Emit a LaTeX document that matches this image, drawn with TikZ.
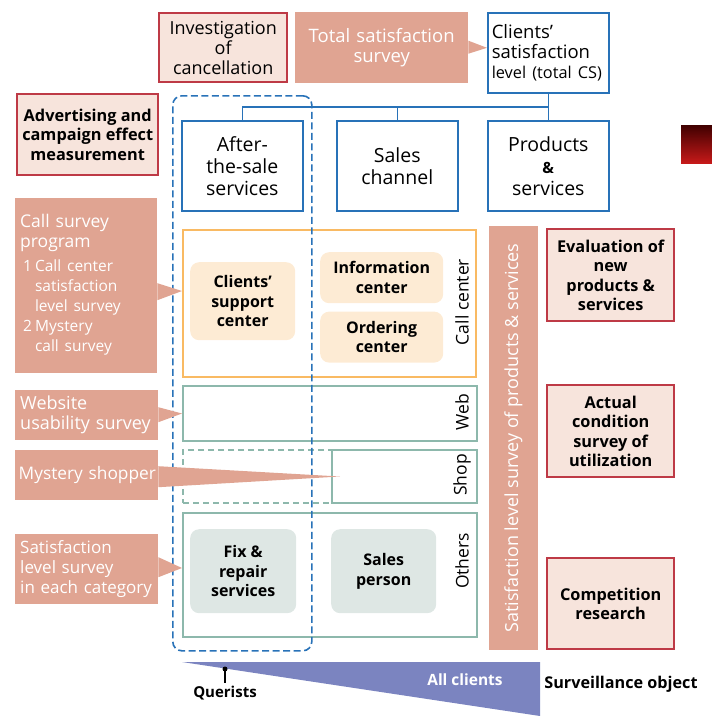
\documentclass[tikz,border=0pt]{standalone}
\usepackage{fontspec}
\setmainfont{Open Sans}
\usetikzlibrary{positioning}

\definecolor{salmonc}{RGB}{224,164,146}
\definecolor{pinkc}{RGB}{247,228,220}
\definecolor{redc}{RGB}{190,58,70}
\definecolor{bluec}{RGB}{40,114,184}
\definecolor{orangec}{RGB}{249,186,99}
\definecolor{orangef}{RGB}{253,235,212}
\definecolor{greenc}{RGB}{141,184,172}
\definecolor{greenf}{RGB}{222,231,228}
\definecolor{purplec}{RGB}{123,132,192}

\begin{document}
\begin{tikzpicture}[x=1pt, y=-1pt,
  redbox/.style = {draw=redc, fill=pinkc, line width=2.4pt, align=center, inner sep=0pt,
                   anchor=north west, font=\fontsize{16.3}{19.5}\selectfont\bfseries},
  callout/.style = {fill=salmonc, text=white, align=left, inner ysep=0pt, inner xsep=5pt,
                    anchor=north west, font=\fontsize{18}{20}\selectfont},
  bluebox/.style = {draw=bluec, line width=1.6pt, fill=white, align=center, inner sep=0pt,
                    anchor=north west, font=\fontsize{19.5}{22}\selectfont},
  frame/.style = {line width=2pt, anchor=north west, inner sep=0pt},
  cell/.style = {rounded corners=9pt, align=center, inner sep=0pt, anchor=north west,
                 font=\fontsize{16}{19.5}\selectfont\bfseries},
  sidelab/.style = {rotate=90, inner sep=0pt, font=\fontsize{17.5}{20}\selectfont},
  tree/.style = {draw=bluec, line width=1.6pt}]
  \useasboundingbox (0,0) rectangle (712,716);

  % top row
  \node[redbox, font=\fontsize{18}{20}\selectfont, minimum width=128, minimum height=69] (cancel) at (158,12) {Investigation\\of\\cancellation};
  \node[callout, align=center, font=\fontsize{18.5}{20}\selectfont, text width=163pt, minimum height=71] (total) at (295,12) {Total satisfaction\\survey};
  \node[bluebox, align=left, font=\fontsize{18.5}{20}\selectfont, text width=113pt, inner xsep=4pt, minimum height=80] (cs) at (487,12) {Clients’\\satisfaction\\{\fontsize{16.3}{20}\selectfont level (total CS)}};
  \fill[salmonc] ([yshift=7pt]total.east) -- ([yshift=5pt]cs.west) -- ([yshift=-6pt]total.east) -- cycle;
  \shade[top color=black!75!red, bottom color=red!75!black!90] (681,125) rectangle (712,163);

  % three aspects
  \node[bluebox, minimum width=121, minimum height=90] (after) at (181,120) {After-\\the-sale\\services};
  \node[bluebox, minimum width=121, minimum height=90] (sales) at (336,120) {Sales\\channel};
  \node[bluebox, minimum width=121, minimum height=90] (prod) at (487,120) {Products\\{\fontsize{15.5}{22}\selectfont\bfseries\&}\\services};
  \coordinate (bus) at (0,107);
  \draw[tree] (cs.south) -- (prod.north);
  \draw[tree] (after.north) -- (after.north |- bus) -- (cs.south |- bus);
  \draw[tree] (sales.north) -- (sales.north |- bus);

  \node[redbox, minimum width=141, minimum height=81] (advert) at (16,93) {Advertising and\\campaign effect\\measurement};

  % channels
  \node[frame, draw=orangec, minimum width=293, minimum height=147] (callc) at (182,229) {};
  \node[cell, fill=orangef, minimum width=105, minimum height=78] (support) at (190,262) {Clients’\\support\\center};
  \node[cell, fill=orangef, minimum width=123, minimum height=51] (info) at (320,252) {Information\\center};
  \node[cell, fill=orangef, minimum width=123, minimum height=51, below=8pt of info] (order) {Ordering\\center};
  \node[sidelab] (lcall) at (462,302) {Call center};

  \node[frame, draw=greenc, minimum width=294, minimum height=55] (web) at (182,385) {};
  \node[sidelab] (lweb) at (462,412) {Web};

  \node[frame, draw=greenc, dash pattern=on 6pt off 4pt, minimum width=149, minimum height=53] (shopd) at (182,449) {};
  \node[frame, draw=greenc, minimum width=145, minimum height=53] (shop) at (331,449) {};
  \node[sidelab] (lshop) at (462,475) {Shop};

  \node[frame, draw=greenc, minimum width=294, minimum height=124] (others) at (182,512) {};
  \node[cell, fill=greenf, minimum width=106, minimum height=84] (fix) at (190,529) {Fix \&\\repair\\services};
  \node[cell, fill=greenf, minimum width=105, minimum height=84] (person) at (331,529) {Sales\\person};
  \node[sidelab] (lothers) at (462,561) {Others};

  % after-the-sale group
  \node[draw=bluec, line width=1.6pt, dash pattern=on 7pt off 3.5pt, rounded corners=9pt, minimum width=139, minimum height=555, anchor=north west] (grp) at (172,95) {};

  % left surveys
  \node[callout, font=\fontsize{17.5}{20.5}\selectfont, text width=132pt, minimum height=175] (callsv) at (15,198) {Call survey\\program\\[5pt]
    {\fontsize{15.5}{20}\selectfont\begin{tabular}{@{\hspace{3pt}}l@{\hspace{3pt}}l@{}}1 & Call center\\ & satisfaction\\ & level survey\\2 & Mystery\\ & call survey\end{tabular}}};
  \node[callout, text width=133pt, minimum height=50] (websv) at (15,390) {Website\\usability survey};
  \node[callout, font=\fontsize{17.3}{20}\selectfont, text width=136pt, inner xsep=3.5pt, minimum height=50] (mystery) at (15,450) {\mbox{Mystery shopper}};
  \node[callout, text width=133pt, minimum height=70, font=\fontsize{17}{20}\selectfont] (each) at (15,534) {Satisfaction\\level survey\\in each category};
  \fill[salmonc] ([yshift=2.5pt]callsv.east) -- ([yshift=12.5pt]callc.west) -- ([yshift=-14.5pt]callsv.east) -- cycle;
  \fill[salmonc] ([yshift=8pt]websv.east) -- (web.west) -- ([yshift=-7pt]websv.east) -- cycle;
  \fill[salmonc] ([yshift=9pt]mystery.east) -- ([xshift=9pt]shop.west) -- ([yshift=-12pt]mystery.east) -- cycle;
  \fill[salmonc] ([yshift=12pt]each.east) -- ([yshift=7pt]others.west) -- ([yshift=-8pt]each.east) -- cycle;

  % right side
  \node[fill=salmonc, text=white, rotate=90, minimum width=424, minimum height=49, inner sep=0pt, font=\fontsize{18}{20}\selectfont] (bar) at (513.5,438) {Satisfaction level survey of products \& services};
  \node[redbox, minimum width=127, minimum height=92] (evalnew) at (546,228) {Evaluation of\\new\\products \&\\services};
  \node[redbox, minimum width=127, minimum height=92] (actual) at (546,384) {Actual\\condition\\survey of\\utilization};
  \node[redbox, minimum width=127, minimum height=91] (compet) at (546,557) {Competition\\research};

  % surveillance object
  \fill[purplec] (182,662) -- (540,662) -- (540,716) -- cycle;
  \node[text=white, font=\fontsize{15.5}{20}\selectfont\bfseries] (allcl) at (465,680) {All clients};
  \node[font=\fontsize{16.2}{20}\selectfont\bfseries] (survobj) at (621,684) {Surveillance object};
  \coordinate (qpin) at (225,669);
  \node[font=\fontsize{15}{20}\selectfont\bfseries] (querists) at (225,693) {Querists};
  \fill (qpin) circle (2.5pt);
  \draw[line width=1.2pt] (qpin) -- (querists.north);
\end{tikzpicture}
\end{document}
